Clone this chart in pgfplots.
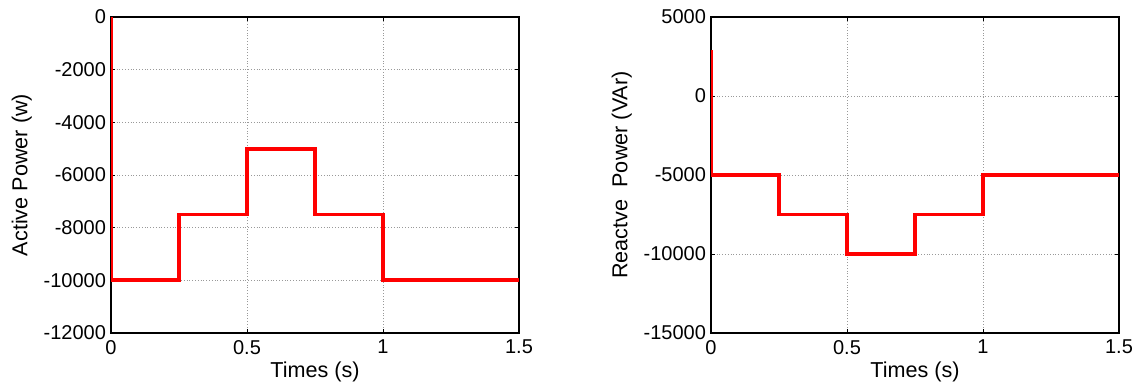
\documentclass[border=0pt]{standalone}
\usepackage{fontspec}
\setmainfont{Liberation Sans}
\usepackage{pgfplots}
\pgfplotsset{compat=1.18}
\pgfplotsset{
  myax/.style={
    scale only axis,
    width=204pt, height=158pt,
    xmin=0, xmax=1.5,
    xtick={0,0.5,1,1.5},
    grid=major,
    major grid style={gray!80, densely dotted, line width=0.35pt},
    tick align=inside,
    tick pos=both,
    axis line style={black, line width=0.6pt},
    tick style={black, line width=0.4pt},
    major tick length=2pt,
    /pgf/number format/assume math mode=true,
    /pgf/number format/set thousands separator={},
    scaled ticks=false,
    ticklabel style={font=\fontsize{10}{12}\selectfont},
    label style={font=\fontsize{10.8}{13}\selectfont},
    xticklabel style={yshift=0pt},
    yticklabel style={xshift=1pt},
    xlabel={Times (s)},
    xlabel style={yshift=3pt},
  }
}
\begin{document}
\begin{tikzpicture}
\useasboundingbox (0,0) rectangle (569pt,192.5pt);
\begin{axis}[myax, at={(55.5pt,26pt)}, anchor=south west,
  ymin=-12000, ymax=0, ytick={-12000,-10000,-8000,-6000,-4000,-2000,0},
  ylabel={Active Power (w)}, ylabel style={yshift=-1pt}]
\addplot[red, line width=1.9pt] coordinates {
(0,0) (0,-10000) (0.25,-10000) (0.25,-7500) (0.5,-7500) (0.5,-5000) (0.75,-5000) (0.75,-7500) (1,-7500) (1,-10000) (1.5,-10000)};
\end{axis}
\begin{axis}[myax, at={(355.5pt,26pt)}, anchor=south west,
  ymin=-15000, ymax=5000, ytick={-15000,-10000,-5000,0,5000},
  ylabel={Reactve\ \ Power (VAr)}, ylabel style={yshift=-1pt}]
\addplot[red, line width=1.9pt] coordinates {
(0,2900) (0,-5000) (0.25,-5000) (0.25,-7500) (0.5,-7500) (0.5,-10000) (0.75,-10000) (0.75,-7500) (1,-7500) (1,-5000) (1.5,-5000)};
\end{axis}
\end{tikzpicture}
\end{document}
